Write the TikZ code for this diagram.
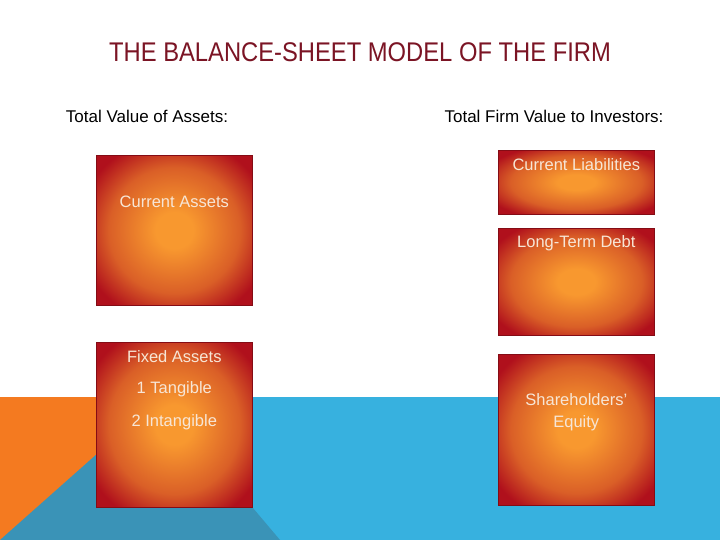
\documentclass[tikz,border=0pt]{standalone}
\usepackage{fontspec}
\setmainfont{Liberation Sans}
\newfontfamily\titlefont[FakeStretch=0.88]{Liberation Sans}
\usetikzlibrary{positioning}

\definecolor{titlered}{HTML}{7B1424}
\definecolor{boxedge}{HTML}{B0101C}
\definecolor{boxmid}{HTML}{F8982F}
\definecolor{boxtext}{HTML}{F7E6D6}
\definecolor{bandorange}{HTML}{F47A20}
\definecolor{bandblue}{HTML}{37B1DF}
\definecolor{bandteal}{HTML}{3A93B7}

\pgfdeclareradialshading{boxglow}{\pgfpoint{0bp}{0bp}}{%
  color(0bp)=(boxmid); color(6bp)=(boxmid);
  color(21bp)=(boxmid!58!boxedge); color(31bp)=(boxedge); color(50bp)=(boxedge)}

\begin{document}
\begin{tikzpicture}[x=1pt, y=-1pt]
    \tikzstyle{block_style} = [rectangle, draw=boxedge!75!black, line width=0.6pt, shading=boxglow, anchor=north west, inner sep=0pt, minimum width=156pt]
    \tikzstyle{block_text} = [text=boxtext, font=\fontsize{16.5}{20}\selectfont, align=center, inner sep=0pt]
    \tikzstyle{head_text} = [text=black, font=\fontsize{17}{20}\selectfont, inner sep=0pt]
    \useasboundingbox (0,0) rectangle (720,540);
    \fill[white] (0,0) rectangle (720,540);

    % coloured band at the foot of the slide
    \fill[bandorange] (0,397) rectangle (160,540);
    \fill[bandblue] (160,397) rectangle (720,540);
    \fill[bandteal] (0,540) -- (160,398) -- (280,540) -- cycle;

    \node[text=titlered, font=\titlefont\fontsize{27}{30}\selectfont, inner sep=0pt] (title) at (360,52) {THE BALANCE-SHEET MODEL OF THE FIRM};
    \node[head_text] (assets) at (147,116) {Total Value of Assets:};
    \node[head_text] (investors) at (554,116) {Total Firm Value to Investors:};

    \node[block_style, minimum height=150pt] (ca) at (96,155) {};
    \node[block_style, minimum height=165pt] (fa) at (96,342) {};
    \node[block_style, minimum height=64pt] (cl) at (498,150) {};
    \node[block_style, minimum height=107pt] (ltd) at (498,228) {};
    \node[block_style, minimum height=151pt] (se) at (498,354) {};

    \node[block_text] (ca_t) at ([yshift=-47pt] ca.north) {Current Assets};
    \node[block_text] (fa_t) at ([yshift=-15pt] fa.north) {Fixed Assets};
    \node[block_text] (fa_1) at ([yshift=-47pt] fa.north) {1 Tangible};
    \node[block_text] (fa_2) at ([yshift=-80pt] fa.north) {2 Intangible};
    \node[block_text] (cl_t) at ([yshift=-15pt] cl.north) {Current Liabilities};
    \node[block_text] (ltd_t) at ([yshift=-15pt] ltd.north) {Long-Term Debt};
    \node[block_text] (se_t) at ([yshift=-58pt] se.north) {Shareholders'\\[2pt] Equity};
\end{tikzpicture}
\end{document}
